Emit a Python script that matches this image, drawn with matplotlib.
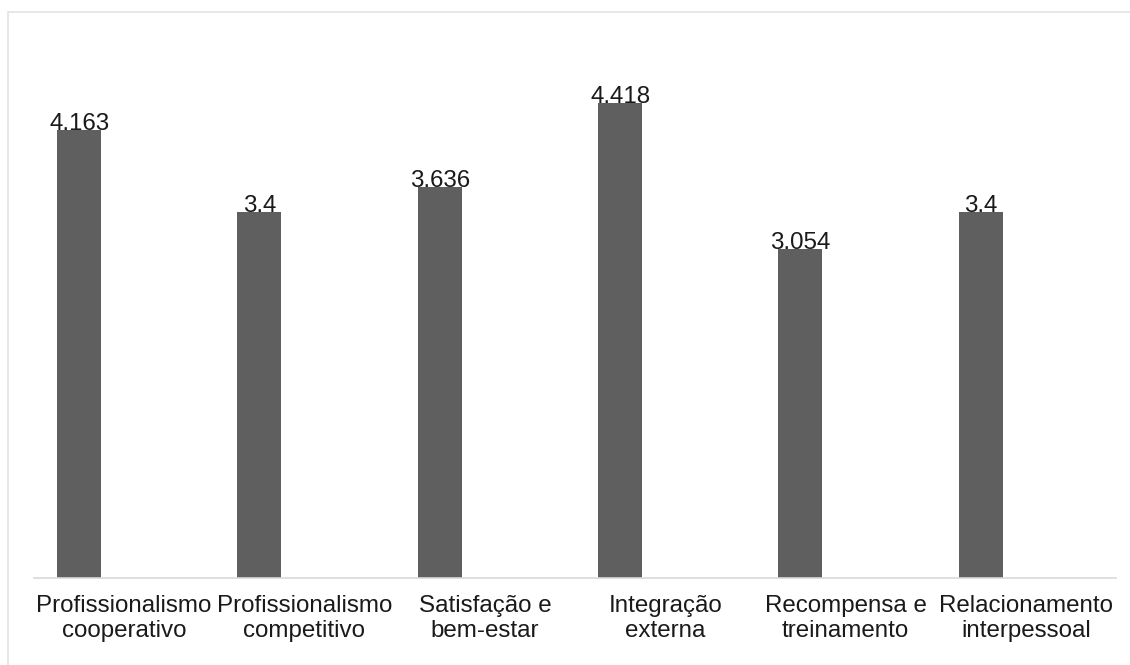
import numpy as np
import matplotlib.pyplot as plt
from matplotlib.patches import Rectangle

categories = ["Profissionalismo\ncooperativo", "Profissionalismo\ncompetitivo",
              "Satisfação e\nbem-estar", "Integração\nexterna",
              "Recompensa e\ntreinamento", "Relacionamento\ninterpessoal"]
values = [4.163, 3.4, 3.636, 4.418, 3.054, 3.4]
value_labels = ["4.163", "3.4", "3.636", "4.418", "3.054", "3.4"]

plt.rcParams['font.family'] = ['Liberation Sans', 'DejaVu Sans']

fig = plt.figure(figsize=(11.3, 6.65), dpi=100)
# outer chart frame (cropped at right and bottom)
fig.patches.append(Rectangle((8 / 1130, -0.1), 1.2, 1.1 - 12 / 665,
                             transform=fig.transFigure, fill=False,
                             edgecolor='#e3e3e3', linewidth=1.2))

ax = fig.add_axes([34 / 1130, 1 - 578 / 665, (1116 - 34) / 1130, (578 - 40) / 665])

x = np.arange(len(categories))
ax.bar(x - 0.25, values, width=0.244, color='#5f5f5f')
for xi, v, lab in zip(x, values, value_labels):
    ax.text(xi - 0.25, v, lab, ha='center', va='baseline',
            fontsize=17.4, color='#1a1a1a')

ax.set_xlim(-0.5, len(categories) - 0.5)
ax.set_ylim(0, 5)
ax.set_xticks(x)
ax.set_xticklabels(categories, fontsize=17.4, color='#1a1a1a', linespacing=1.22)
ax.tick_params(axis='x', length=0, pad=12)
ax.set_yticks([])
for side in ['top', 'right', 'left']:
    ax.spines[side].set_visible(False)
ax.spines['bottom'].set_color('#d9d9d9')
ax.spines['bottom'].set_linewidth(1.2)

plt.savefig('out.png', dpi=100)
